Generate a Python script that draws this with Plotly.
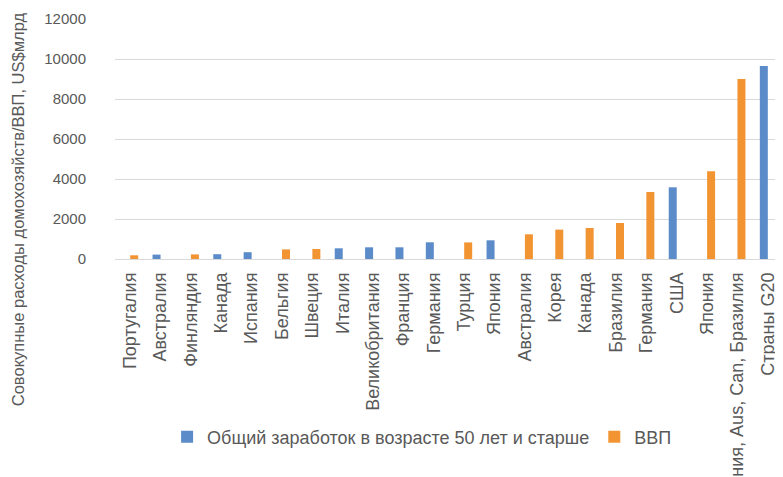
import plotly.graph_objects as go

categories = ["Португалия", "Австралия", "Финляндия", "Канада", "Испания", "Бельгия",
              "Швеция", "Италия", "Великобритания", "Франция", "Германия", "Турция",
              "Япония", "Австралия", "Корея", "Канада", "Бразилия", "Германия", "США",
              "Япония", "Япония, Aus, Can, Бразилия", "Страны G20"]
earnings_50plus = [None, 220, None, 240, 340, None, None, 535, 585, 585, 835, None,
                   935, None, None, None, None, None, 3585, None, None, 9650]
gdp = [185, None, 230, None, None, 480, 500, None, None, None, None, 830,
       None, 1235, 1470, 1550, 1800, 3350, None, 4385, 9000, None]
y_ticks = [0, 2000, 4000, 6000, 8000, 10000, 12000]
y_tick_labels = ["0", "2000", "4000", "6000", "8000", "10000", "12000"]

series1_name = "Общий заработок в возрасте 50 лет и старше"
series2_name = "ВВП"
y_title = "Совокупные расходы домохозяйств/ВВП, US$млрд"

xpos = list(range(len(categories)))
FONT = "Liberation Sans, Arial, sans-serif"
TXT = "#595959"

fig = go.Figure()
fig.add_trace(go.Bar(x=xpos, y=earnings_50plus, name=series1_name,
                     marker=dict(color="#5B8BC9", line=dict(width=0))))
fig.add_trace(go.Bar(x=xpos, y=gdp, name=series2_name,
                     marker=dict(color="#F39433", line=dict(width=0))))

fig.update_layout(
    width=775, height=469,
    margin=dict(l=107, r=0, t=11, b=218, autoexpand=False),
    paper_bgcolor="white", plot_bgcolor="white",
    barmode="group", bargap=0.473, bargroupgap=0,
    font=dict(family=FONT, size=15, color=TXT),
    showlegend=True,
    legend=dict(orientation="h", x=0.078, y=-0.742, xanchor="left", yanchor="middle",
                font=dict(size=18, color=TXT), itemwidth=30, traceorder="normal",
                bgcolor="rgba(0,0,0,0)"),
    annotations=[dict(text=y_title, xref="paper", yref="paper",
                      x=-0.145, y=0.208, xanchor="center", yanchor="middle",
                      textangle=-90, showarrow=False,
                      font=dict(size=16.5, color=TXT, family=FONT))],
)
fig.update_xaxes(range=[-0.5, len(categories) - 0.5], tickmode="array",
                 tickvals=xpos, ticktext=categories, tickangle=-90,
                 showgrid=False, zeroline=False, showline=False, ticks="",
                 automargin=False, ticklabelstandoff=9,
                 tickfont=dict(size=18, color=TXT))
fig.update_yaxes(range=[0, 12000], tickmode="array", tickvals=y_ticks,
                 ticktext=y_tick_labels,
                 showgrid=True, gridcolor="#D9D9D9", gridwidth=1,
                 zeroline=True, zerolinecolor="#D9D9D9", zerolinewidth=1,
                 showline=False, ticks="outside", ticklen=25,
                 tickcolor="rgba(0,0,0,0)", automargin=False,
                 tickfont=dict(size=15, color=TXT))

fig.write_html("out.html")
